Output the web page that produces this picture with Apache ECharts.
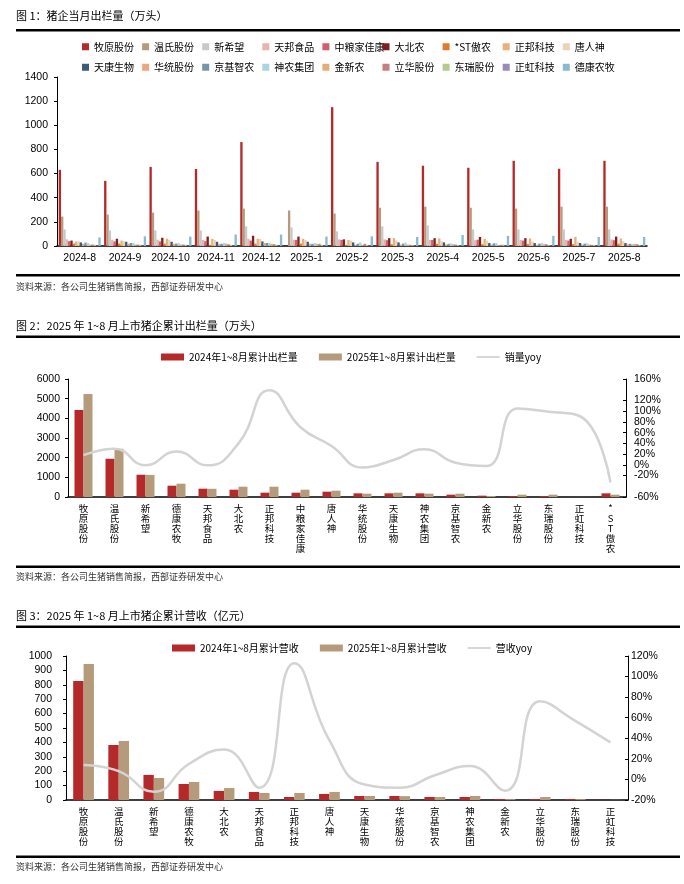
<!DOCTYPE html>
<html><head><meta charset="utf-8">
<script src="https://cdn.jsdelivr.net/npm/echarts@6/dist/echarts.min.js"></script>
<style>html,body{margin:0;padding:0;background:#fff}#c{width:684px;height:884px}</style>
</head><body><div id="c"></div>
<script>
// ---------- Chart 1 data: monthly output (万头) ----------
const months = ['2024-8','2024-9','2024-10','2024-11','2024-12','2025-1','2025-2','2025-3','2025-4','2025-5','2025-6','2025-7','2025-8'];
const names1 = ['牧原股份','温氏股份','新希望','天邦食品','中粮家佳康','大北农','*ST傲农','正邦科技','唐人神','天康生物','华统股份','京基智农','神农集团','金新农','立华股份','东瑞股份','正虹科技','德康农牧'];
const muyuan   = [631,540,655,638,861,null,1150,697,665,648,706,640,706];
const wens     = [244,261,277,294,310,294,269,317,326,317,310,326,326];
const xinxiwang= [137,129,129,129,162,154,121,162,170,137,137,137,137];
const tianbang = [55,52,52,50,60,52,55,55,50,48,50,50,55];
const zhongliang=[40,38,38,40,45,50,50,48,50,52,45,45,48];
const dabeinong= [45,60,68,78,85,78,55,65,65,75,65,60,78];
const aonong    = [20,20,20,10,20,20,10,15,18,15,18,15,20];
const zhengbang= [38,45,60,60,60,60,50,65,62,60,62,75,62];
const tangrenshen=[38,40,52,50,58,50,45,45,40,45,38,35,40];
const tiankang = [30,35,35,35,38,35,30,30,30,25,25,25,25];
const huatong  = [18,20,18,18,25,18,10,12,12,12,10,12,15];
const jingji   = [28,25,20,18,25,18,18,20,18,22,20,20,18];
const shennong = [25,25,25,25,25,25,30,28,22,25,25,22,18];
const jinxinnong=[12,12,12,20,18,18,10,12,15,8,15,12,18];
const lihua    = [12,12,12,15,15,18,18,10,12,10,15,10,15];
const dongrui  = [10,10,10,10,10,10,10,8,8,12,8,8,8];
const zhenghong= [3,3,3,3,3,3,3,3,3,3,3,3,3];
const dekang   = [71,80,78,95,95,78,80,75,92,84,84,75,75];
const values1 = [muyuan,wens,xinxiwang,tianbang,zhongliang,dabeinong,aonong,zhengbang,tangrenshen,tiankang,huatong,jingji,shennong,jinxinnong,lihua,dongrui,zhenghong,dekang];

// ---------- Chart 2 data: cumulative output Jan-Aug (万头) ----------
const cats2 = ['牧原股份','温氏股份','新希望','德康农牧','天邦食品','大北农','正邦科技','中粮家佳康','唐人神','华统股份','天康生物','神农集团','京基智农','金新农','立华股份','东瑞股份','正虹科技','*ST傲农'];
const output2024 = [4428,1944,1132,575,423,372,220,220,270,186,186,186,118,68,51,51,3,186];
const output2025 = [5239,2451,1125,676,418,524,524,372,321,169,220,169,169,51,118,118,2,118];
const outputYoy  = [18,30,-1,25,-1,40,139,70,35,-5,9,29,4,-2,105,99,91,-33];

// ---------- Chart 3 data: cumulative revenue Jan-Aug (亿元) ----------
const cats3 = ['牧原股份','温氏股份','新希望','德康农牧','大北农','天邦食品','正邦科技','唐人神','天康生物','华统股份','京基智农','神农集团','金新农','立华股份','东瑞股份','正虹科技'];
const revenue2024 = [826,382,174,111,63,56,21,42,28,28,21,21,7,7,7,1];
const revenue2025 = [944,410,153,125,83,49,49,56,28,27,21,28,6,21,6,1];
const revenueYoy  = [14,8,-12,15,29,-8,113,38,-5,-8,4,13,-11,76,57,36];

const legend2 = ['2024年1~8月累计出栏量','2025年1~8月累计出栏量','销量yoy'];
const legend3 = ['2024年1~8月累计营收','2025年1~8月累计营收','营收yoy'];

const colors1 = ['#B5292A','#B59B7B','#C8C8C8','#E6B4AA','#D0606A','#7F1F1F','#E07A2E','#E8B07A','#EDD3B5','#3D5A78','#EDA67F','#7497A8','#ADD3E3','#E4AE78','#C47F7F','#B4CB8F','#9B8BB8','#8DB9CD'];
const RED = '#B5292A', TAN = '#B59B7B', GRAY = '#D3D3D3';
const CJK = '"Noto Sans CJK SC", sans-serif';
const LAT = '"Liberation Sans", Arial, sans-serif';
const LINE_ICON = 'path://M0,0L0,0M0,2.6L23,2.6L23,4.4L0,4.4ZM0,7L0,7';

const chart = echarts.init(document.getElementById('c'), null, {renderer:'canvas'});

const vert = v => v.split('').join('\n');
const baseX = (gi, data, vertical) => ({
  gridIndex: gi, type: 'category', data: data,
  axisLine: {lineStyle: {color: '#000', width: 1.5}},
  axisTick: {inside: true, length: 3, lineStyle: {color: '#000'}},
  axisLabel: vertical ? {interval: 0, formatter: vert, fontSize: 9.5, lineHeight: 10, color: '#000', fontFamily: CJK, margin: 6, verticalAlign: 'top'}
                      : {interval: 0, fontSize: 10.5, color: '#000', fontFamily: LAT, margin: 7}
});
const baseY = (gi, min, max, itv, pos, pct, margin) => ({
  gridIndex: gi, type: 'value', min: min, max: max, interval: itv, position: pos || 'left',
  axisLine: {show: true, lineStyle: {color: '#000'}},
  axisTick: {show: true, length: 3, inside: pos === 'right', lineStyle: {color: '#000'}},
  splitLine: {show: false},
  axisLabel: {fontSize: 10.5, color: '#000', fontFamily: LAT, margin: margin, showMinLabel: true, showMaxLabel: true,
    formatter: v => pct ? (v + '%') : String(v)}
});

const series = [];
values1.forEach((arr, i) => {
  series.push({name: names1[i], type: 'bar', xAxisIndex: 0, yAxisIndex: 0, data: arr,
    barGap: '0%', barCategoryGap: '7.5%', itemStyle: {color: colors1[i]}});
});
series.push({name: legend2[0], type: 'bar', xAxisIndex: 1, yAxisIndex: 1, data: output2024, barGap: '0%', barCategoryGap: '42%', itemStyle: {color: RED}});
series.push({name: legend2[1], type: 'bar', xAxisIndex: 1, yAxisIndex: 1, data: output2025, barGap: '0%', barCategoryGap: '42%', itemStyle: {color: TAN}});
series.push({name: legend2[2], type: 'line', xAxisIndex: 1, yAxisIndex: 2, data: outputYoy, smooth: 0.5, symbol: 'none', lineStyle: {color: GRAY, width: 2.5}, itemStyle: {color: GRAY}});
series.push({name: legend3[0], type: 'bar', xAxisIndex: 2, yAxisIndex: 3, data: revenue2024, barGap: '0%', barCategoryGap: '41%', itemStyle: {color: RED}});
series.push({name: legend3[1], type: 'bar', xAxisIndex: 2, yAxisIndex: 3, data: revenue2025, barGap: '0%', barCategoryGap: '41%', itemStyle: {color: TAN}});
series.push({name: legend3[2], type: 'line', xAxisIndex: 2, yAxisIndex: 4, data: revenueYoy, smooth: 0.5, symbol: 'none', lineStyle: {color: GRAY, width: 2.5}, itemStyle: {color: GRAY}});

const txt = (x, y, text, size, color) => ({type: 'text', x: x, y: y, silent: true,
  style: {text: text, fontSize: size, fontFamily: CJK, fill: color || '#000', verticalAlign: 'middle', align: 'left'}});
const rule = y => ({type: 'rect', silent: true, shape: {x: 16, y: y, width: 664, height: 2.5}, style: {fill: '#000'}});
const SRC = '资料来源：各公司生猪销售简报，西部证券研发中心';

const legendData = names => names.map((n, i) => i === 2 ? {name: n, icon: LINE_ICON, itemStyle: {color: GRAY}} : {name: n, icon: 'rect'});

// chart 1 legend: 9 columns, 2 rows each
const legends = [];
for (let c = 0; c < 9; c++) {
  legends.push({data: [names1[c], names1[c + 9]], orient: 'vertical', left: 82 + c * 60.1, top: 40, padding: 0,
    itemWidth: 7, itemHeight: 7, itemGap: 7, icon: 'rect', selectedMode: false,
    textStyle: {fontSize: 10, fontFamily: CJK, color: '#000', lineHeight: 13.5}});
}
legends.push({data: legendData(legend2), left: 161, top: 352, padding: 0, itemWidth: 23, itemHeight: 7, itemGap: 21, selectedMode: false,
  textStyle: {fontSize: 10, fontFamily: CJK, color: '#000'}});
legends.push({data: legendData(legend3), left: 172, top: 643, padding: 0, itemWidth: 23, itemHeight: 7, itemGap: 21, selectedMode: false,
  textStyle: {fontSize: 10, fontFamily: CJK, color: '#000'}});

chart.setOption({
  backgroundColor: '#fff',
  animation: false,
  grid: [
    {left: 57, right: 37, top: 77, bottom: 638},
    {left: 68, right: 58, top: 379, bottom: 387},
    {left: 66, right: 56, top: 656, bottom: 84}
  ],
  xAxis: [baseX(0, months, false), baseX(1, cats2, true), baseX(2, cats3, true)],
  yAxis: [
    baseY(0, 0, 1400, 200, 'left', false, 9),
    baseY(1, 0, 6000, 1000, 'left', false, 8),
    baseY(1, -60, 160, 20, 'right', true, 8),
    baseY(2, 0, 1000, 100, 'left', false, 14),
    baseY(2, -20, 120, 20, 'right', true, 3)
  ],
  legend: legends,
  graphic: [
    txt(16, 16, '图 1：猪企当月出栏量（万头）', 11),
    rule(29),
    rule(274),
    txt(16, 287, SRC, 9, '#333'),
    txt(16, 326, '图 2：2025 年 1~8 月上市猪企累计出栏量（万头）', 11),
    rule(335.5),
    rule(565.5),
    txt(16, 577, SRC, 9, '#333'),
    txt(16, 616, '图 3：2025 年 1~8 月上市猪企累计营收（亿元）', 11),
    rule(625.5),
    rule(855.5),
    txt(16, 867, SRC, 9, '#333')
  ],
  series: series
});
</script></body></html>
